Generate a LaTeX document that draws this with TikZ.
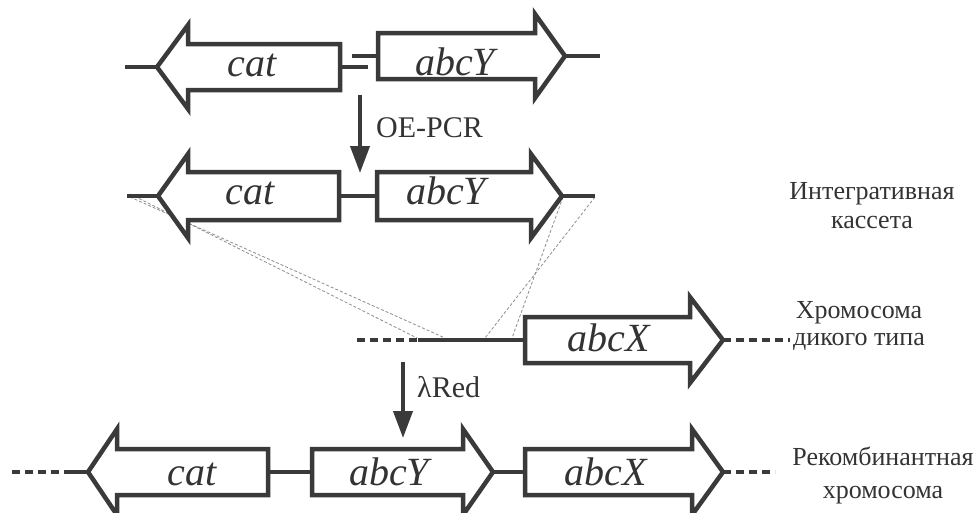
\documentclass[tikz,border=0pt]{standalone}
\usepackage{fontspec}
\setmainfont{Liberation Serif}
\usetikzlibrary{arrows.meta}
\definecolor{ink}{HTML}{3A3A3A}
\definecolor{txt}{HTML}{333333}
\definecolor{guide}{HTML}{8C8C8C}
\tikzset{
  gene/.style={draw=ink, line width=4.5pt, fill=white, line join=miter},
  dna/.style={draw=ink, line width=4.5pt},
  dnadash/.style={draw=ink, line width=4.5pt, dash pattern=on 8pt off 5pt},
  guideline/.style={draw=guide, line width=0.8pt, dash pattern=on 3pt off 2pt},
  genelabel/.style={font=\fontsize{40}{44}\selectfont\itshape, text=txt, anchor=base, inner sep=0pt},
  sidelabel/.style={font=\fontsize{26}{30}\selectfont, text=txt, anchor=base, inner sep=0pt},
  steplabel/.style={font=\fontsize{30}{34}\selectfont, text=txt, anchor=base west, inner sep=0pt},
  steparrow/.style={draw=ink, line width=4pt, -{Triangle[length=27pt,width=19pt]}}
}
% right-pointing gene: name, xleft, xheadback, xtip, yc, bodyhalf, headhalf
\newcommand\geneR[7]{%
  \draw[gene] (#2,#5-#6) -- (#3,#5-#6) -- (#3,#5-#7) -- (#4,#5) -- (#3,#5+#7) -- (#3,#5+#6) -- (#2,#5+#6) -- cycle;
  \coordinate (#1-w) at (#2,#5); \coordinate (#1-e) at (#4,#5);}
% left-pointing gene: name, xright, xheadback, xtip, yc, bodyhalf, headhalf
\newcommand\geneL{\geneR}
\begin{document}
\begin{tikzpicture}[x=1pt,y=-1pt]
\useasboundingbox (0,0) rectangle (976,512);

% ---------- row 1 ----------
\coordinate (r1a) at (125,67);
\coordinate (r1b) at (368,67);
\coordinate (r1c) at (352,56);
\coordinate (r1d) at (600,56);
\draw[dna] (r1a) -- (r1b);
\draw[dna] (r1c) -- (r1d);
\geneL{catA}{340}{188}{157}{67}{23}{42}
\geneR{abcYA}{378}{535}{565}{56}{23}{42}
\node[genelabel] (tcatA) at (252,76) {cat};
\node[genelabel] (tabcYA) at (455,75) {abcY};

% OE-PCR step
\coordinate (s1a) at (360,95);
\coordinate (s1b) at (360,173);
\draw[steparrow] (s1a) -- (s1b);
\node[steplabel] (tpcr) at (376,137) {OE-PCR};

% ---------- crossover guides ----------
\coordinate (g1a) at (130,197);
\coordinate (g1b) at (445,338);
\coordinate (g2a) at (130,194);
\coordinate (g2b) at (417,338);
\coordinate (g3a) at (563,197);
\coordinate (g3b) at (512,338);
\coordinate (g4a) at (595,197);
\coordinate (g4b) at (485,338);
\draw[guideline] (g1a) -- (g1b);
\draw[guideline] (g2a) -- (g2b);
\draw[guideline] (g3a) -- (g3b);
\draw[guideline] (g4a) -- (g4b);

% ---------- row 2 ----------
\coordinate (r2a) at (127,196);
\coordinate (r2b) at (595,196);
\draw[dna] (r2a) -- (r2b);
\geneL{catB}{339}{188}{158}{196}{24}{42}
\geneR{abcYB}{377}{531}{562}{196}{24}{42}
\node[genelabel] (tcatB) at (250,204) {cat};
\node[genelabel] (tabcYB) at (446,204) {abcY};
\node[sidelabel] (tint1) at (872,199) {Интегративная};
\node[sidelabel] (tint2) at (872,228) {кассета};

% ---------- row 3 ----------
\coordinate (r3a) at (357,340);
\coordinate (r3b) at (418,340);
\coordinate (r3c) at (790,340);
\draw[dnadash] (r3a) -- (r3b);
\draw[dna] (r3b) -- (525,340);
\geneR{abcXC}{525}{690}{723}{340}{23}{43}
\draw[dnadash] (abcXC-e) -- (r3c);
\node[genelabel] (tabcXC) at (609,351) {abcX};
\node[sidelabel] (twt1) at (859,318) {Хромосома};
\node[sidelabel] (twt2) at (859,345) {дикого типа};

% lambda Red step
\coordinate (s2a) at (403,362);
\coordinate (s2b) at (403,438);
\draw[steparrow] (s2a) -- (s2b);
\node[steplabel] (tred) at (417,397) {λRed};

% ---------- row 4 ----------
\coordinate (r4a) at (12,472);
\coordinate (r4b) at (67,472);
\coordinate (r4c) at (775,472);
\draw[dnadash] (r4a) -- (r4b);
\draw[dna] (r4b) -- (723,472);
\geneL{catD}{268}{117}{88}{472}{23}{43}
\geneR{abcYD}{312}{463}{493}{472}{23}{43}
\geneR{abcXD}{525}{692}{723}{472}{23}{43}
\draw[dnadash] (abcXD-e) -- (r4c);
\node[genelabel] (tcatD) at (192,485) {cat};
\node[genelabel] (tabcYD) at (389,485) {abcY};
\node[genelabel] (tabcXD) at (606,485) {abcX};
\node[sidelabel] (trec1) at (883,465) {Рекомбинантная};
\node[sidelabel] (trec2) at (883,498) {хромосома};
\end{tikzpicture}
\end{document}
